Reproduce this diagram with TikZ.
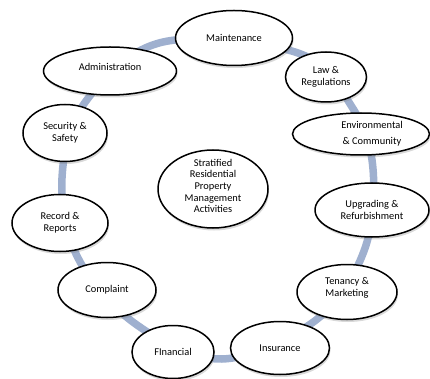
\documentclass[tikz,border=0pt]{standalone}
\usepackage{fontspec}
\setmainfont{Carlito}
\usetikzlibrary{shapes.geometric,shadows}
\definecolor{ringblue}{RGB}{159,176,207}
\begin{document}
\begin{tikzpicture}[x=1pt,y=-1pt,
  bubble/.style={ellipse, draw=black, line width=1.5pt, fill=white, inner sep=0pt,
    align=center, font=\fontsize{10.4}{11.6}\selectfont,
    drop shadow={opacity=0.3, shadow xshift=1pt, shadow yshift=-2.5pt}},
  txt/.style={inner sep=0pt, align=center, font=\fontsize{10.4}{11.6}\selectfont},
  ring/.style={draw=ringblue, line width=7.5pt}]
\useasboundingbox (0,0) rectangle (430,379);
% ring points in the gaps between the bubbles
\coordinate (r1) at (163,42);
\coordinate (r2) at (298,53);
\coordinate (r3) at (352,107);
\coordinate (r4) at (373,169);
\coordinate (r5) at (364,251);
\coordinate (r6) at (316,320);
\coordinate (r7) at (222,359);
\coordinate (r8) at (137,325);
\coordinate (r9) at (78,258);
\coordinate (r10) at (62,178);
\coordinate (r11) at (86,101);
\draw[ring] plot[smooth cycle, tension=0.6] coordinates {(r1) (r2) (r3) (r4) (r5) (r6) (r7) (r8) (r9) (r10) (r11)};
% bubbles
\node[bubble, minimum width=117pt, minimum height=55pt] (maint) at (234,38) {Maintenance};
\node[bubble, minimum width=81pt, minimum height=50pt] (law) at (326,77) {Law \&\\Regulations};
\node[bubble, minimum width=137pt, minimum height=42pt] (env) at (361,134) {};
\node[txt] (envtext) at (372,134) {Environmental\\[4pt]\& Community};
\node[bubble, minimum width=114pt, minimum height=54pt] (upg) at (372,210) {Upgrading \&\\Refurbishment};
\node[bubble, minimum width=100pt, minimum height=55pt] (ten) at (347,292) {};
\node[txt] (tentext) at (347,288) {Tenancy \&\\Marketing};
\node[bubble, minimum width=99pt, minimum height=53pt] (ins) at (280,348) {Insurance};
\node[bubble, minimum width=82pt, minimum height=53pt] (fin) at (173,352) {FInancial};
\node[bubble, minimum width=98pt, minimum height=55pt] (comp) at (107,290) {Complaint};
\node[bubble, minimum width=96pt, minimum height=57pt] (rec) at (60,223) {Record \&\\Reports};
\node[bubble, minimum width=84pt, minimum height=57pt] (sec) at (65,133) {Security \&\\Safety};
\node[bubble, minimum width=133pt, minimum height=48pt] (adm) at (110,71) {};
\node[txt] (admtext) at (110,67) {Administration};
\node[bubble, minimum width=110pt, minimum height=78pt] (core) at (213,189) {};
\node[txt] (coretext) at (213,186) {Stratified\\Residential\\Property\\Management\\Activities};
\end{tikzpicture}
\end{document}
